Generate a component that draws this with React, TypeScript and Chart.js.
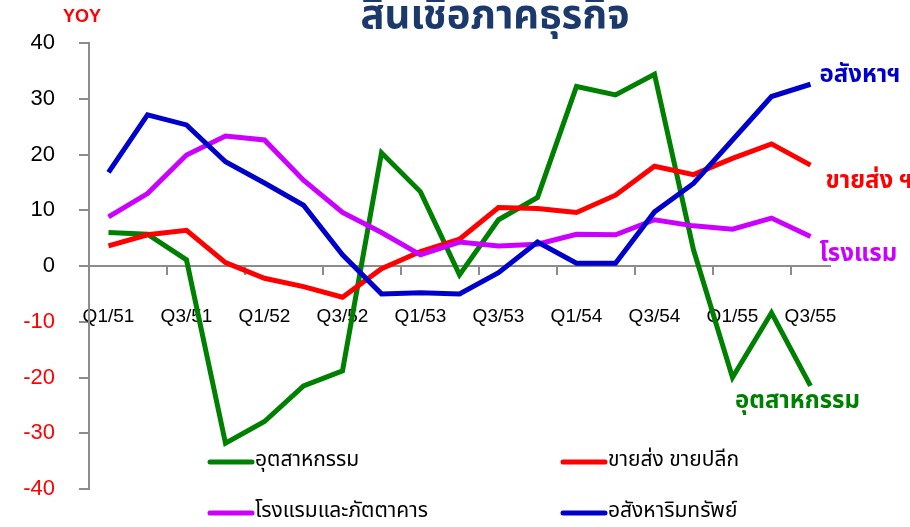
import React, { useEffect, useRef } from "react";
import { Chart, registerables } from "chart.js";

Chart.register(...registerables);

const categories = [
  "Q1/51", "Q2/51", "Q3/51", "Q4/51",
  "Q1/52", "Q2/52", "Q3/52", "Q4/52",
  "Q1/53", "Q2/53", "Q3/53", "Q4/53",
  "Q1/54", "Q2/54", "Q3/54", "Q4/54",
  "Q1/55", "Q2/55", "Q3/55",
];

const industry = [6.0, 5.7, 1.1, -31.8, -27.9, -21.5, -18.8, 20.3, 13.3, -1.6, 8.3, 12.3, 32.2, 30.7, 34.4, 2.9, -20.0, -8.4, -21.5];
const trade = [3.6, 5.6, 6.4, 0.6, -2.2, -3.7, -5.6, -0.5, 2.6, 4.8, 10.5, 10.3, 9.6, 12.7, 17.9, 16.4, 19.3, 21.9, 18.1];
const hotel = [8.8, 13.0, 19.9, 23.3, 22.6, 15.4, 9.6, 6.0, 2.0, 4.3, 3.6, 3.9, 5.7, 5.6, 8.3, 7.2, 6.6, 8.6, 5.3];
const realEstate = [16.8, 27.1, 25.3, 18.7, 14.9, 10.9, 2.0, -5.0, -4.8, -5.0, -1.2, 4.3, 0.5, 0.5, 9.7, 14.8, 22.6, 30.4, 32.6];

const seriesNames = ["อุตสาหกรรม", "ขายส่ง ขายปลีก", "โรงแรมและภัตตาคาร", "อสังหาริมทรัพย์"];
const endLabels = ["อุตสาหกรรม", "ขายส่ง ฯ", "โรงแรม", "อสังหาฯ"];
const colors = ["#008000", "#FF0000", "#CC00FF", "#0000CC"];

const title = "สินเชื่อภาคธุรกิจ";
const yUnit = "YOY";
const yTicks = { min: -40, max: 40, step: 10 };

const THAI = 'Tahoma, "Noto Sans Thai", "Noto Sans", sans-serif';
const AXIS_FONT = '"Liberation Sans", Arial, sans-serif';

const overlayPlugin = {
  id: "overlay",
  afterDatasetsDraw(chart: any) {
    const ctx = chart.ctx;
    ctx.save();
    // title
    ctx.fillStyle = "#1b3a6b";
    ctx.font = `bold 40px ${THAI}`;
    ctx.textAlign = "center";
    ctx.textBaseline = "alphabetic";
    ctx.fillText(title, 495, 28);
    // unit
    ctx.fillStyle = "#FF0000";
    ctx.font = `bold 18px ${AXIS_FONT}`;
    ctx.textAlign = "left";
    ctx.fillText(yUnit, 63, 22);

    // end labels
    const offs = [
      { dx: -13, dy: 17, align: "center" },
      { dx: 15, dy: 18, align: "left" },
      { dx: 9, dy: 20, align: "left" },
      { dx: 9, dy: -7, align: "left" },
    ];
    ctx.font = `bold 24px ${THAI}`;
    ctx.textBaseline = "middle";
    for (let i = 0; i < 4; i++) {
      const meta = chart.getDatasetMeta(i);
      const pt = meta.data[meta.data.length - 1];
      ctx.fillStyle = colors[i];
      ctx.textAlign = offs[i].align;
      ctx.fillText(endLabels[i], pt.x + offs[i].dx, pt.y + offs[i].dy);
    }

    // legend
    const legendPos = [
      { x: 210, y: 462 },
      { x: 563, y: 462 },
      { x: 210, y: 513 },
      { x: 563, y: 513 },
    ];
    ctx.font = `21px ${THAI}`;
    ctx.textAlign = "left";
    ctx.textBaseline = "middle";
    for (let i = 0; i < 4; i++) {
      const p = legendPos[i];
      ctx.strokeStyle = colors[i];
      ctx.lineWidth = 5;
      ctx.lineCap = "round";
      ctx.beginPath();
      ctx.moveTo(p.x, p.y);
      ctx.lineTo(p.x + 42, p.y);
      ctx.stroke();
      ctx.fillStyle = "#000";
      ctx.fillText(seriesNames[i], p.x + 45, p.y);
    }
    ctx.restore();
  },
};

export default function App() {
  const ref = useRef<HTMLCanvasElement>(null);
  useEffect(() => {
    document.body.style.margin = "0";
    const data = [industry, trade, hotel, realEstate];
    const chart = new Chart(ref.current!, {
      type: "line",
      data: {
        labels: categories,
        datasets: data.map((d, i) => ({
          label: seriesNames[i],
          data: d,
          borderColor: colors[i],
          backgroundColor: colors[i],
          borderWidth: 5,
          pointRadius: 0,
          tension: 0,
          borderJoinStyle: "miter" as const,
          order: 3 - i,
        })),
      },
      options: {
        animation: false,
        responsive: false,
        layout: { padding: { left: 0, right: 80, top: 43, bottom: 38 } },
        plugins: { legend: { display: false }, tooltip: { enabled: false }, title: { display: false } },
        scales: {
          x: {
            type: "category",
            offset: true,
            position: { y: 0 } as any,
            border: { display: true, color: "#8c8c8c", width: 2 },
            grid: {
              offset: true,
              drawOnChartArea: false,
              drawTicks: true,
              tickLength: 8,
              lineWidth: 2,
              color: (c: any) => (c.index !== undefined && c.index > 0 && c.index % 2 === 0 && c.index < categories.length ? "#8c8c8c" : "rgba(0,0,0,0)"),
            },
            ticks: {
              autoSkip: false,
              maxRotation: 0,
              minRotation: 0,
              padding: 31,
              color: "#000",
              font: { family: AXIS_FONT, size: 19 },
              callback: (_v: any, idx: number) => (idx % 2 === 0 ? categories[idx] : ""),
            },
          },
          y: {
            min: yTicks.min,
            max: yTicks.max,
            afterFit: (s: any) => { s.width = 89; },
            border: { display: true, color: "#8c8c8c", width: 2 },
            grid: { drawOnChartArea: false, drawTicks: true, tickLength: 10, lineWidth: 2, color: "#8c8c8c" },
            ticks: {
              stepSize: yTicks.step,
              padding: 24,
              font: { family: AXIS_FONT, size: 22 },
              color: (c: any) => (c.tick && c.tick.value < 0 ? "#FF0000" : "#000"),
            },
          },
        },
      },
      plugins: [overlayPlugin],
    });
    return () => chart.destroy();
  }, []);
  return (
    <div style={{ position: "fixed", left: 0, top: 0, width: 910, height: 527, background: "#fff" }}>
      <canvas ref={ref} width={910} height={527} style={{ width: 910, height: 527 }} />
    </div>
  );
}
